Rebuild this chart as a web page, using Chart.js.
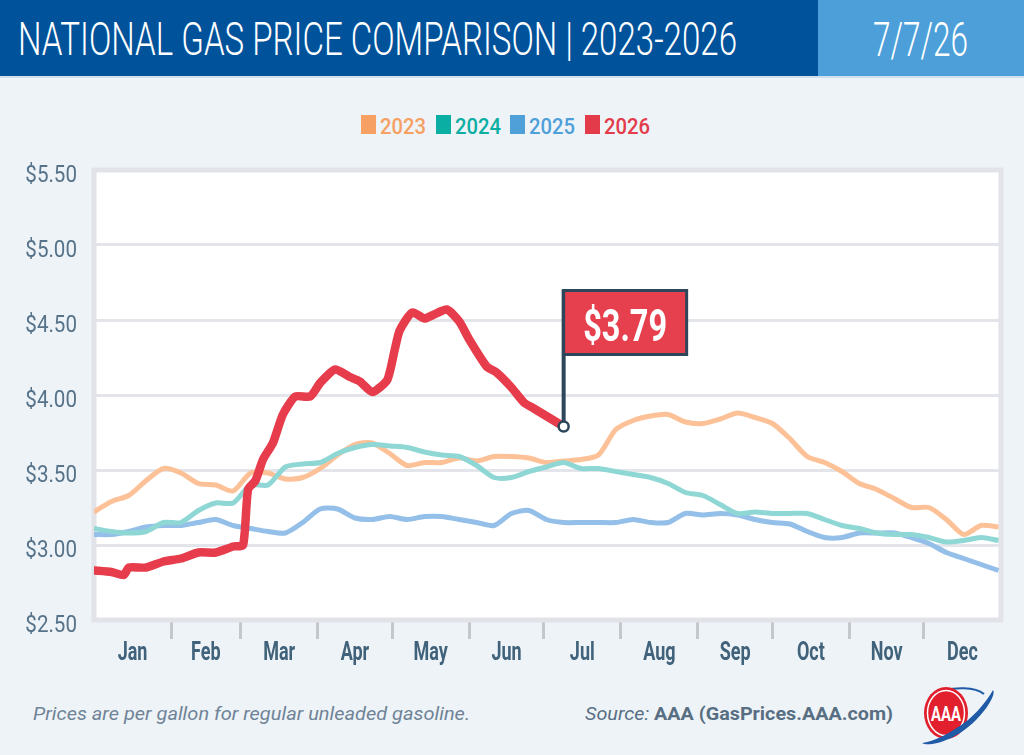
<!DOCTYPE html>
<html>
<head>
<meta charset="utf-8">
<script src="https://cdn.jsdelivr.net/npm/chart.js@4.4.1/dist/chart.umd.min.js"></script>
<style>
html, body { margin: 0; padding: 0; }
body { width: 1024px; height: 755px; background: #eef3f8; position: relative; overflow: hidden; font-family: Roboto, "Liberation Sans", sans-serif; }
#head { position: absolute; left: 0; top: 0; width: 818px; height: 76px; background: #00529b; }
#datebox { position: absolute; left: 818px; top: 0; width: 206px; height: 76px; background: #4c9fd8; }
#headline { position: absolute; left: 0; top: 76px; width: 1024px; height: 2px; background: #cfe0ef; }
.fit { position: absolute; white-space: nowrap; transform-origin: 0 0; }
.sq { position: absolute; width: 15px; height: 19px; }
#chartbox { position: absolute; left: 0; top: 140px; width: 1024px; height: 530px; }
#logo { position: absolute; left: 914px; top: 684px; }
</style>
</head>
<body>
<div id="head"></div>
<div id="datebox"></div>
<div id="headline"></div>
<div id="chartbox"><canvas id="myChart" width="1024" height="530"></canvas></div>
<svg id="logo" width="84" height="62" viewBox="0 0 84 62">
  <path d="M70 10 C 60 2, 40 4, 30 6" fill="none" stroke="#1f5aa6" stroke-width="2"/>
  <ellipse cx="32" cy="29" rx="22" ry="26" fill="#e21f2d"/>
  <ellipse cx="32" cy="29" rx="18.5" ry="22.5" fill="none" stroke="#fff" stroke-width="1.5"/>
  <text x="32" y="37" text-anchor="middle" font-family="Roboto" font-weight="bold" font-size="21" fill="#fff" textLength="30" lengthAdjust="spacingAndGlyphs">AAA</text>
  <path d="M8 59 C 14 63, 40 58, 62 36 C 74 24, 82 10, 79 6 C 76 12, 66 26, 54 36 C 36 50, 18 58, 8 59 Z" fill="#1f5aa6"/>
</svg>
<script>
// 차트 데이터
var years = ['2023', '2024', '2025', '2026'];
var legendColors = ['#f7a064', '#0aaea3', '#4f9fd8', '#e33b4a'];
var lineColors = ['#fdc197', '#8fd7d5', '#93bfe8', '#e63c4b'];

var months = ['Jan', 'Feb', 'Mar', 'Apr', 'May', 'Jun', 'Jul', 'Aug', 'Sep', 'Oct', 'Nov', 'Dec'];
var monthStarts = [0, 31, 59, 90, 120, 151, 181, 212, 243, 273, 304, 334, 365];
var yTicks = [2.5, 3.0, 3.5, 4.0, 4.5, 5.0, 5.5];

// 주간 (day of year)
var weekDays = [0, 7, 14, 21, 28, 35, 42, 49, 56, 63, 70, 77, 84, 91, 98, 105, 112, 119, 126, 133,
    140, 147, 154, 161, 168, 175, 182, 189, 196, 203, 210, 217, 224, 231, 238, 245, 252, 259, 266, 273,
    280, 287, 294, 301, 308, 315, 322, 329, 336, 343, 350, 357, 364];

var price2023 = [3.22, 3.29, 3.33, 3.43, 3.51, 3.48, 3.41, 3.40, 3.36, 3.48,
    3.48, 3.44, 3.45, 3.51, 3.60, 3.67, 3.68, 3.61, 3.53, 3.55,
    3.55, 3.58, 3.56, 3.59, 3.59, 3.58, 3.55, 3.56, 3.57, 3.60,
    3.77, 3.83, 3.86, 3.87, 3.82, 3.81, 3.84, 3.88, 3.85, 3.81,
    3.71, 3.59, 3.55, 3.49, 3.41, 3.37, 3.31, 3.25, 3.25, 3.17,
    3.07, 3.13, 3.12];

var price2024 = [3.11, 3.09, 3.08, 3.09, 3.15, 3.15, 3.23, 3.28, 3.28, 3.40,
    3.40, 3.52, 3.54, 3.55, 3.61, 3.65, 3.67, 3.66, 3.65, 3.62,
    3.60, 3.59, 3.53, 3.45, 3.45, 3.49, 3.52, 3.55, 3.51, 3.51,
    3.49, 3.47, 3.45, 3.41, 3.35, 3.33, 3.27, 3.21, 3.22, 3.21,
    3.21, 3.21, 3.17, 3.13, 3.11, 3.08, 3.07, 3.07, 3.05, 3.02,
    3.03, 3.05, 3.03];

var price2025 = [3.07, 3.07, 3.09, 3.12, 3.13, 3.13, 3.15, 3.17, 3.13, 3.11,
    3.09, 3.08, 3.15, 3.24, 3.24, 3.18, 3.17, 3.19, 3.17, 3.19,
    3.19, 3.17, 3.15, 3.13, 3.21, 3.23, 3.17, 3.15, 3.15, 3.15,
    3.15, 3.17, 3.15, 3.15, 3.21, 3.20, 3.21, 3.20, 3.17, 3.15,
    3.14, 3.09, 3.05, 3.05, 3.08, 3.08, 3.08, 3.05, 3.01, 2.95,
    2.91, 2.87, 2.83];

// 2026 (7/7 까지)
var days2026 = [0, 7, 12, 14, 21, 28, 35, 42, 49, 56, 60, 62, 65, 68, 72, 76, 81, 87, 91, 97,
    103, 107, 112, 118, 121, 123, 128, 133, 136, 142, 147, 151, 158, 162, 168, 173, 177, 181, 189];
var price2026 = [2.83, 2.82, 2.80, 2.85, 2.85, 2.89, 2.91, 2.95, 2.95, 2.99, 3.00, 3.37, 3.43, 3.57, 3.68, 3.87, 3.99, 3.99, 4.08, 4.17,
    4.12, 4.09, 4.02, 4.10, 4.30, 4.43, 4.55, 4.51, 4.53, 4.57, 4.49, 4.37, 4.19, 4.15, 4.05, 3.95, 3.91, 3.87, 3.79];

function toPoints(xs, ys)
{
    var pts = [];
    for (var i = 0; i < xs.length; i++) {
        pts.push({x: xs[i], y: ys[i]});
    }
    return pts;
}

// 글자를 원하는 폭으로 맞춰서 배치 (condensed 글꼴 대신)
function fitText(str, left, top, width, font, color)
{
    var el = document.createElement('div');
    el.className = 'fit';
    el.style.font = font;
    el.style.lineHeight = '1';
    el.style.color = color;
    el.style.left = left + 'px';
    el.style.top = top + 'px';
    el.innerHTML = str;
    document.body.appendChild(el);
    var w = el.getBoundingClientRect().width;
    el.style.transform = 'scaleX(' + (width / w) + ')';
    return el;
}

// canvas 에 좁게 쓰기
function narrowText(ctx, txt, x, y, sx, align)
{
    ctx.save();
    ctx.translate(x, y);
    ctx.scale(sx, 1);
    ctx.textAlign = align;
    ctx.textBaseline = 'alphabetic';
    ctx.fillText(txt, 0, 0);
    ctx.restore();
}

// 제목, 날짜
fitText('NATIONAL GAS PRICE COMPARISON | 2023-2026', 18, 16, 719, '300 46px Roboto', '#ffffff');
fitText('7/7/26', 873, 15, 95, '300 49px Roboto', '#ffffff');

// 범례
for (var i = 0; i < years.length; i++) {
    var lx = 361 + i * 74.7;
    var sq = document.createElement('div');
    sq.className = 'sq';
    sq.style.left = lx + 'px';
    sq.style.top = '115px';
    sq.style.background = legendColors[i];
    document.body.appendChild(sq);
    fitText(years[i], lx + 19, 115, 46, '500 22.5px Roboto', legendColors[i]);
}

// 하단 문구
fitText('Prices are per gallon for regular unleaded gasoline.', 33, 703.5, 437, 'italic 400 19px Roboto', '#6f8397');
fitText('<i>Source:</i> <b>AAA (GasPrices.AAA.com)</b>', 585, 703.5, 308, '400 19px Roboto', '#586e82');

// x축 눈금: 월 경계 + 월 중간(라벨)
var xTickValues = [];
var xTickLabels = {};
for (var m = 0; m < months.length; m++) {
    if (m > 0) xTickValues.push(monthStarts[m]);
    var mid = (monthStarts[m] + monthStarts[m + 1]) / 2;
    xTickValues.push(mid);
    xTickLabels[mid] = months[m];
}

var areaPlugin = {
    id: 'area',
    beforeDraw: function(chart) {
        var a = chart.chartArea;
        var ctx = chart.ctx;
        ctx.save();
        ctx.fillStyle = '#ffffff';
        ctx.fillRect(a.left, a.top, a.right - a.left, a.bottom - a.top);
        ctx.restore();
    },
    beforeDatasetsDraw: function(chart) {
        var a = chart.chartArea;
        var ctx = chart.ctx;
        ctx.save();
        ctx.strokeStyle = '#e1e3e8';
        ctx.lineWidth = 5;
        ctx.strokeRect(a.left, a.top, a.right - a.left, a.bottom - a.top);
        ctx.restore();
    }
};

// 축 라벨 (좁은 글씨)
var axisTextPlugin = {
    id: 'axisText',
    afterDraw: function(chart) {
        var ctx = chart.ctx;
        var ys = chart.scales.y;
        var xs = chart.scales.x;
        ctx.save();
        ctx.fillStyle = '#56738a';
        ctx.font = '400 24.5px Roboto';
        ys.ticks.forEach(function(t) {
            narrowText(ctx, '$' + t.value.toFixed(2), ys.right - 17, ys.getPixelForValue(t.value) + 12, 0.84, 'right');
        });
        ctx.fillStyle = '#40627a';
        ctx.font = 'bold 25px Roboto';
        xs.ticks.forEach(function(t) {
            var lab = xTickLabels[t.value];
            if (lab) narrowText(ctx, lab, xs.getPixelForValue(t.value), xs.top + 40, 0.72, 'center');
        });
        ctx.restore();
    }
};

// 마지막 값 깃발
var flagPlugin = {
    id: 'flag',
    afterDatasetsDraw: function(chart) {
        var meta = chart.getDatasetMeta(3);
        var pt = meta.data[meta.data.length - 1];
        var ctx = chart.ctx;
        var x = pt.x, y = pt.y;
        var top = y - 136, w = 123, h = 64;
        ctx.save();
        ctx.strokeStyle = '#2d4659';
        ctx.lineWidth = 4;
        ctx.beginPath();
        ctx.moveTo(x, y);
        ctx.lineTo(x, top - 1);
        ctx.stroke();
        ctx.fillStyle = '#e63f4d';
        ctx.fillRect(x, top, w, h);
        ctx.lineWidth = 3;
        ctx.strokeRect(x, top, w, h);

        var label = '$' + price2026[price2026.length - 1].toFixed(2);
        ctx.font = 'bold 44px Roboto';
        var tw = ctx.measureText(label).width;
        ctx.fillStyle = '#ffffff';
        narrowText(ctx, label, x + w / 2, top + 50, 84 / tw, 'center');

        ctx.beginPath();
        ctx.arc(x, y, 5, 0, Math.PI * 2);
        ctx.fillStyle = '#ffffff';
        ctx.fill();
        ctx.lineWidth = 2.5;
        ctx.strokeStyle = '#2d4659';
        ctx.stroke();
        ctx.restore();
    }
};

var series = [price2023, price2024, price2025];
var datasets = [];
for (var s = 0; s < series.length; s++) {
    datasets.push({
        label: years[s],
        data: toPoints(weekDays, series[s]),
        borderColor: lineColors[s],
        borderWidth: 5,
        pointRadius: 0,
        tension: 0.25,
        order: [3, 1, 2][s]
    });
}
datasets.push({
    label: years[3],
    data: toPoints(days2026, price2026),
    borderColor: lineColors[3],
    borderWidth: 8.5,
    pointRadius: 0,
    tension: 0.2,
    borderCapStyle: 'round',
    order: 0
});

var mychart = new Chart(document.getElementById('myChart'), {
    type: 'line',
    data: { datasets: datasets },
    options: {
        responsive: false,
        animation: false,
        layout: { padding: { top: 30, right: 23, left: 0, bottom: 0 } },
        plugins: {
            legend: { display: false },
            tooltip: { enabled: false }
        },
        scales: {
            x: {
                type: 'linear',
                min: 0,
                max: 365,
                afterBuildTicks: function(scale) {
                    scale.ticks = xTickValues.map(function(v) { return {value: v}; });
                },
                afterFit: function(scale) { scale.height = 50; },
                border: { display: false },
                grid: {
                    drawOnChartArea: false,
                    drawTicks: true,
                    tickLength: 19,
                    tickWidth: 3,
                    tickColor: function(c) {
                        return (c.tick && xTickLabels[c.tick.value] === undefined) ? '#c4c7cb' : 'rgba(0,0,0,0)';
                    }
                },
                ticks: {
                    display: false,
                    autoSkip: false,
                    maxRotation: 0,
                    callback: function(v) { return xTickLabels[v] || ''; }
                }
            },
            y: {
                min: yTicks[0],
                max: yTicks[yTicks.length - 1],
                afterBuildTicks: function(scale) {
                    scale.ticks = yTicks.map(function(v) { return {value: v}; });
                },
                afterFit: function(scale) { scale.width = 94; },
                border: { display: false },
                grid: { color: '#e3e5ea', lineWidth: 3, drawTicks: false },
                ticks: {
                    display: false,
                    callback: function(v) { return '$' + v.toFixed(2); }
                }
            }
        }
    },
    plugins: [areaPlugin, axisTextPlugin, flagPlugin]
});
</script>
</body>
</html>
